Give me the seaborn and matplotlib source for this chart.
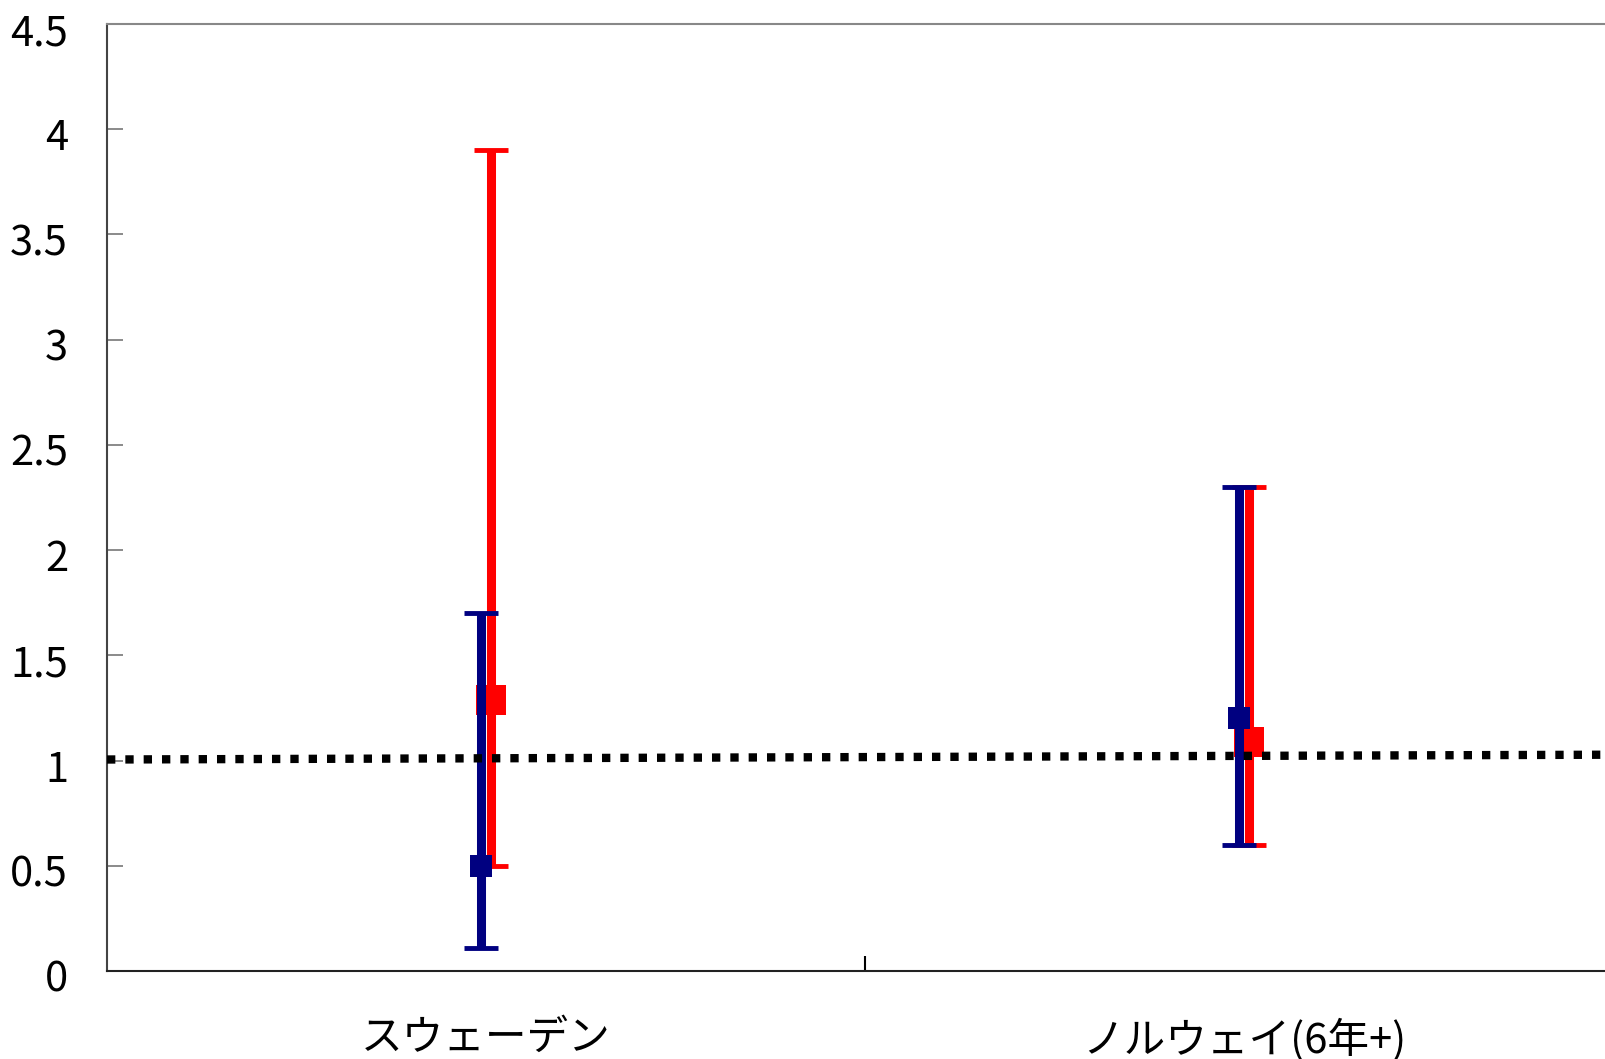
import matplotlib
matplotlib.use("Agg")
import matplotlib.pyplot as plt
import matplotlib.transforms as mtransforms
import seaborn as sns

# ─── Data ─────────────────────────────────────────────────────────────────────

categories = ["スウェーデン", "ノルウェイ(6年+)"]

red_mid = [1.29, 1.09]
red_low = [0.50, 0.60]
red_high = [3.90, 2.30]

navy_mid = [0.50, 1.20]
navy_low = [0.11, 0.60]
navy_high = [1.70, 2.30]

ref_x = [-0.5, 1.5]
ref_y = [1.005, 1.028]

y_ticks = [0, 0.5, 1, 1.5, 2, 2.5, 3, 3.5, 4, 4.5]
y_tick_labels = ["0", "0.5", "1", "1.5", "2", "2.5", "3", "3.5", "4", "4.5"]

# ─── Style ────────────────────────────────────────────────────────────────────

sns.set_theme(style="white")
plt.rcParams["font.family"] = ["Noto Sans CJK JP", "DejaVu Sans"]

fig = plt.figure(figsize=(16.05, 10.59), dpi=100)
ax = fig.add_axes([107 / 1605, 88 / 1059, 1516 / 1605, 947 / 1059])

pos = list(range(len(categories)))
off = 0.006


def draw(mid, low, high, color, msize, dx, z):
    xs = [p + dx for p in pos]
    yerr = [[m - l for m, l in zip(mid, low)], [h - m for m, h in zip(mid, high)]]
    ax.errorbar(xs, mid, yerr=yerr, fmt="none", ecolor=color,
                elinewidth=6.5, capsize=12, capthick=3.5, zorder=z)
    ax.plot(xs, mid, linestyle="none", marker="s", color=color,
            markersize=msize, markeredgewidth=0, zorder=z + 0.5)


draw(red_mid, red_low, red_high, "#ff0000", 21, off, 3)
draw(navy_mid, navy_low, navy_high, "#000080", 16, -off, 4)

ax.plot(ref_x, ref_y, color="black", linewidth=6, linestyle=(0, (1, 1.2)),
        dash_capstyle="butt", zorder=6)

ax.set_xlim(-0.5, 1.5)
ax.set_ylim(0, 4.5)

# y axis
ax.set_yticks(y_ticks)
ax.set_yticklabels(y_tick_labels, fontsize=30)
ax.tick_params(axis="y", direction="in", length=11.5, width=1.2,
               color="#777777", pad=28, left=True, labelcolor="black")
shift = mtransforms.ScaledTranslation(0, -5 / 100, fig.dpi_scale_trans)
for lab in ax.get_yticklabels():
    lab.set_transform(lab.get_transform() + shift)

# x axis: boundary tick between categories, labels at centres
ax.set_xticks([0.5])
ax.set_xticklabels([""])
ax.tick_params(axis="x", which="major", direction="in", length=11,
               width=1.5, color="black", bottom=True)
ax.set_xticks(pos, minor=True)
ax.set_xticklabels(categories, minor=True, fontsize=30)
ax.tick_params(axis="x", which="minor", length=0, pad=34, labelcolor="black")

for side in ["left", "bottom", "top", "right"]:
    ax.spines[side].set_visible(True)
ax.spines["left"].set_color("#444444")
ax.spines["left"].set_linewidth(1.5)
ax.spines["bottom"].set_color("#222222")
ax.spines["bottom"].set_linewidth(1.5)
ax.spines["top"].set_color("#888888")
ax.spines["top"].set_linewidth(1.5)
ax.grid(False)

fig.savefig("out.png", dpi=100)
